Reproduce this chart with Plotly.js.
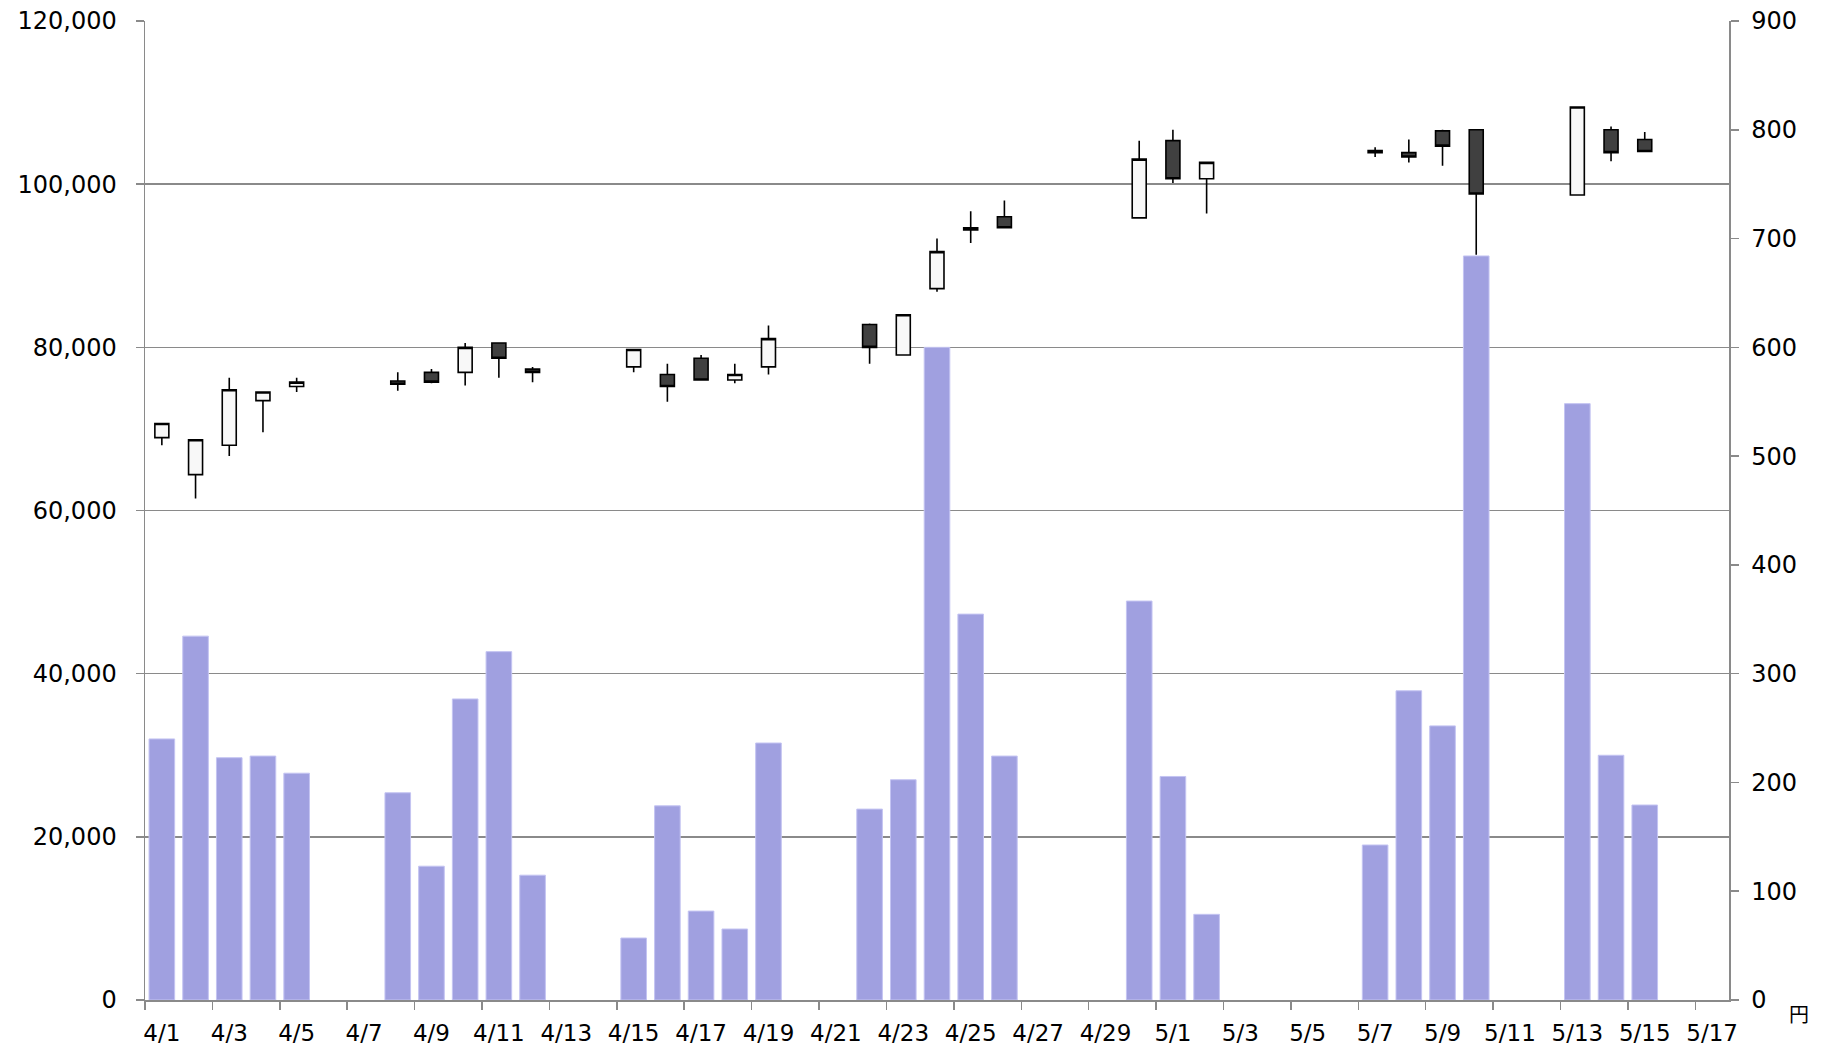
<!DOCTYPE html>
<html>
<head>
<meta charset="utf-8">
<script src="https://cdn.plot.ly/plotly-3.0.1.min.js"></script>
<style>html,body{margin:0;padding:0;background:#fff;}#chart{width:1829px;height:1051px;}</style>
</head>
<body>
<div id="chart"></div>
<script>
// Trading days
const dates = ["2013-04-01","2013-04-02","2013-04-03","2013-04-04","2013-04-05",
  "2013-04-08","2013-04-09","2013-04-10","2013-04-11","2013-04-12",
  "2013-04-15","2013-04-16","2013-04-17","2013-04-18","2013-04-19",
  "2013-04-22","2013-04-23","2013-04-24","2013-04-25","2013-04-26",
  "2013-04-30","2013-05-01","2013-05-02",
  "2013-05-07","2013-05-08","2013-05-09","2013-05-10",
  "2013-05-13","2013-05-14","2013-05-15"];
// Volume (left axis)
const volume = [32000,44600,29700,29900,27800,
  25400,16400,36900,42700,15300,
  7600,23800,10900,8700,31500,
  23400,27000,80000,47300,29900,
  48900,27400,10500,
  19000,37900,33600,91200,
  73100,30000,23900];
// Prices in yen (right axis)
const openP  = [517,483,510,551,564, 569,577,577,604,580, 582,575,590,570,582, 621,593,654,710,720, 719,790,755, 781,779,799,800, 740,800,791];
const highP  = [530,515,572,559,572, 577,580,604,604,582, 598,585,593,585,620, 622,630,700,725,735, 790,800,770, 784,791,800,800, 821,803,798];
const lowP   = [510,461,500,522,559, 560,567,565,572,568, 577,550,570,567,575, 585,593,651,696,710, 719,751,723, 775,770,767,685, 740,771,780];
const closeP = [530,515,561,559,568, 566,568,600,590,577, 598,564,570,575,608, 600,630,688,708,710, 773,755,770, 779,775,785,741, 821,779,780];

const DAY = 86400000;
const gridC = "#8a8a8a";
const fontF = "DejaVu Sans, Verdana, sans-serif";

const traces = [
  {
    type: "bar", x: dates, y: volume, yaxis: "y",
    width: 0.76 * DAY,
    marker: {color: "#a0a0e0", line: {color: "#c4c4f2", width: 1}},
    hoverinfo: "x+y"
  },
  {
    type: "candlestick", x: dates, open: openP, high: highP, low: lowP, close: closeP,
    yaxis: "y2", whiskerwidth: 0,
    increasing: {fillcolor: "#f8f8f8", line: {color: "#000000", width: 1.6}},
    decreasing: {fillcolor: "#404040", line: {color: "#000000", width: 1.6}}
  }
];

const layout = {
  width: 1829, height: 1051,
  margin: {l: 145, r: 100, t: 21, b: 51, pad: 0},
  paper_bgcolor: "#ffffff", plot_bgcolor: "#ffffff",
  showlegend: false,
  boxgap: 0.585, boxgroupgap: 0,
  bargap: 0,
  font: {family: fontF, size: 24, color: "#000000"},
  xaxis: {
    type: "date",
    range: ["2013-03-31 12:00", "2013-05-17 12:00"],
    tick0: "2013-04-01", dtick: 2 * DAY, tickformat: "%-m/%-d",
    ticks: "", showgrid: false, zeroline: false,
    showline: true, linecolor: gridC, linewidth: 1.5,
    minor: {tick0: "2013-03-31 12:00", dtick: 2 * DAY, ticks: "outside", ticklen: 8, tickwidth: 1.5, tickcolor: gridC, showgrid: false},
    rangeslider: {visible: false},
    tickfont: {family: fontF, size: 23, color: "#000000"},
    ticklabelstandoff: 12
  },
  yaxis: {
    range: [0, 120000], dtick: 20000, tickformat: ",d",
    showgrid: true, gridcolor: gridC, gridwidth: 1.5,
    zeroline: false, showline: true, linecolor: gridC, linewidth: 1.5,
    ticks: "outside", ticklen: 8, tickwidth: 1.5, tickcolor: gridC,
    tickfont: {family: fontF, size: 24, color: "#000000"},
    ticklabelstandoff: 14
  },
  yaxis2: {
    range: [0, 900], dtick: 100, overlaying: "y", side: "right",
    showgrid: false, zeroline: false, showline: true, linecolor: gridC, linewidth: 1.5,
    ticks: "outside", ticklen: 8, tickwidth: 1.5, tickcolor: gridC,
    tickfont: {family: fontF, size: 24, color: "#000000"},
    ticklabelstandoff: 8
  },
  annotations: [
    {text: "円", xref: "paper", yref: "paper", x: 1.0442, y: -0.0138, showarrow: false,
     font: {family: "Noto Sans CJK JP, sans-serif", size: 20, color: "#000000"}, xanchor: "center", yanchor: "middle"}
  ]
};

Plotly.newPlot("chart", traces, layout, {displayModeBar: false, staticPlot: true});
</script>
</body>
</html>
